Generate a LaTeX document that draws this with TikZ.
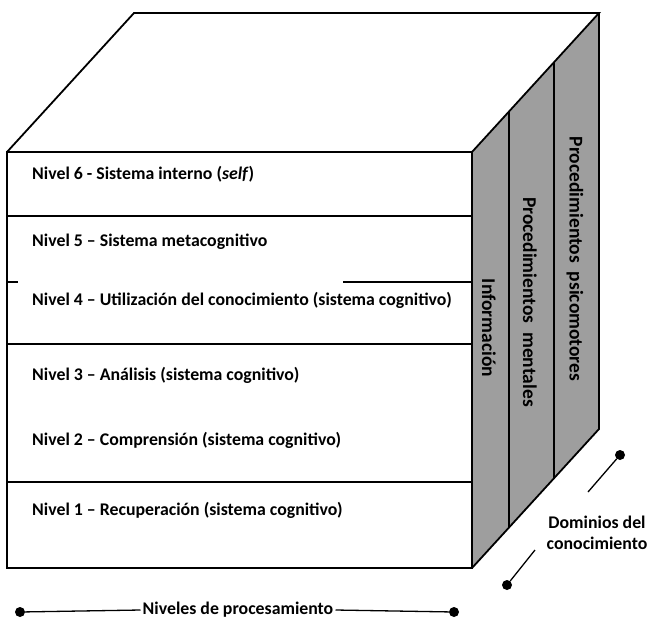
\documentclass[tikz,border=0pt]{standalone}
\usepackage{fontspec}
\setmainfont{Carlito}
\begin{document}
\begin{tikzpicture}[x=1pt,y=-1pt,
  edge/.style={line width=1.8pt,line join=miter},
  thin/.style={line width=1.3pt},
  level/.style={anchor=west,inner sep=0pt,font=\fontsize{17.8}{21}\selectfont\bfseries},
  strip/.style={rotate=-90,inner sep=0pt,font=\fontsize{19.5}{22}\selectfont\bfseries},
  dot/.style={circle,fill=black,inner sep=0pt,minimum size=10pt},
  axislabel/.style={inner sep=2pt,font=\fontsize{17.8}{21}\selectfont\bfseries}]
\useasboundingbox (0,0) rectangle (653,619);
% corners
\coordinate (FTL) at (7,152);
\coordinate (FTR) at (472,152);
\coordinate (FBR) at (472,568);
\coordinate (FBL) at (7,568);
\coordinate (BTL) at (134,13);
\coordinate (BTR) at (599,13);
\coordinate (BBR) at (599,429);
% right face
\fill[black!38] (FTR) -- (BTR) -- (BBR) -- (FBR) -- cycle;
% dividers on right face
\coordinate (d1t) at (509,111.5);
\coordinate (d1b) at (509,527.5);
\coordinate (d2t) at (554,62.3);
\coordinate (d2b) at (554,478.3);
\draw[edge] (d1t) -- (d1b);
\draw[edge] (d2t) -- (d2b);
% faces
\draw[edge] (FTL) -- (BTL) -- (BTR) -- (FTR);
\draw[edge] (BTR) -- (BBR) -- (FBR);
\draw[edge] (FTL) rectangle (FBR);
% front horizontal lines
\coordinate (h1l) at (7,216); \coordinate (h1r) at (472,216);
\coordinate (h2a) at (7,282); \coordinate (h2b) at (18,282);
\coordinate (h2c) at (343,282); \coordinate (h2d) at (472,282);
\coordinate (h3l) at (7,344); \coordinate (h3r) at (472,344);
\coordinate (h4l) at (7,482); \coordinate (h4r) at (472,482);
\draw[thin] (h1l) -- (h1r);
\draw[thin] (h2a) -- (h2b);
\draw[thin] (h2c) -- (h2d);
\draw[edge] (h3l) -- (h3r);
\draw[thin] (h4l) -- (h4r);
% level texts
\node[level] (n6) at (32,174) {Nivel 6 - Sistema interno (\textit{self})};
\node[level] (n5) at (32,242) {Nivel 5 – Sistema metacognitivo};
\node[level] (n4) at (32,300) {Nivel 4 – Utilización del conocimiento (sistema cognitivo)};
\node[level] (n3) at (32,375) {Nivel 3 – Análisis (sistema cognitivo)};
\node[level] (n2) at (32,440) {Nivel 2 – Comprensión (sistema cognitivo)};
\node[level] (n1) at (32,510) {Nivel 1 – Recuperación (sistema cognitivo)};
% strip texts
\node[strip] (s1) at (489,328) {Información};
\node[strip] (s2) at (530,302) {Procedimientos\ \ mentales};
\node[strip] (s3) at (575,259) {Procedimientos\ \ psicomotores};
% processing axis
\node[dot] (p1) at (20,612) {};
\node[dot] (p2) at (454,612) {};
\node[axislabel] (pl) at (238,610) {Niveles de procesamiento};
\draw[thin] (p1) -- (pl.west);
\draw[thin] (pl.east) -- (p2);
% domains axis
\node[dot] (q1) at (620,455) {};
\node[dot] (q2) at (507,585) {};
\coordinate (q1e) at (588,492);
\coordinate (q2e) at (535,550);
\draw[thin] (q1) -- (q1e);
\draw[thin] (q2) -- (q2e);
\node[axislabel,align=center] (dl) at (597,533) {Dominios del\\conocimiento};
\end{tikzpicture}
\end{document}
